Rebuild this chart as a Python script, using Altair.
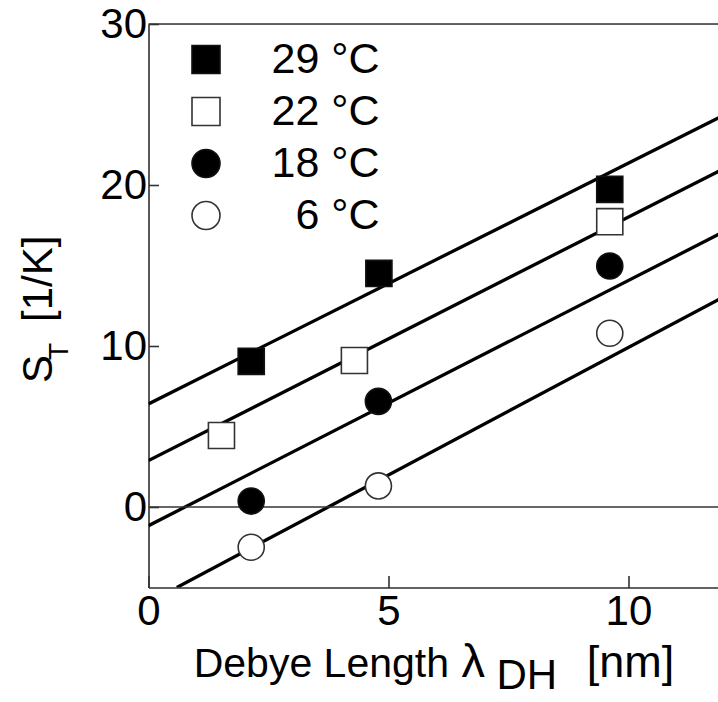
import altair as alt
import pandas as pd

FONT = "Liberation Sans"

series = ["29 °C", "22 °C", "18 °C", "6 °C"]
shapes = ["square", "square", "circle", "circle"]
fills = ["black", "white", "black", "white"]
strokes = ["#111", "#333", "#111", "#333"]

# measured points (Debye length nm, S_T 1/K)
x29 = [2.14, 4.80, 9.61]
y29 = [9.05, 14.51, 19.73]
x22 = [1.52, 4.29, 9.61]
y22 = [4.44, 9.10, 17.72]
x18 = [2.14, 4.79, 9.61]
y18 = [0.37, 6.56, 14.97]
x06 = [2.14, 4.79, 9.61]
y06 = [-2.50, 1.31, 10.79]

# fitted lines: start/end points
line_x0 = [0.0, 0.0, 0.0, 0.59]
line_y0 = [6.40, 2.88, -1.16, -5.0]
line_x1 = [12.0, 12.0, 12.0, 12.0]
line_y1 = [24.35, 21.04, 17.12, 13.08]

x_ticks = [0, 5, 10]
y_ticks = [0, 10, 20, 30]
x_dom = [0, 11.865]
y_dom = [-5, 30]

pts = pd.DataFrame({
    "series": [series[0]] * 3 + [series[1]] * 3 + [series[2]] * 3 + [series[3]] * 3,
    "x": x29 + x22 + x18 + x06,
    "y": y29 + y22 + y18 + y06,
})
lines = pd.DataFrame({
    "series": series + series,
    "x": line_x0 + line_x1,
    "y": line_y0 + line_y1,
})

xs = alt.Scale(domain=x_dom, nice=False, zero=False)
ys = alt.Scale(domain=y_dom, nice=False, zero=False)

xax = alt.Axis(values=x_ticks, title=None, labelFontSize=42, labelFont=FONT,
               labelColor="black", domainColor="#333", domainWidth=1.6,
               tickColor="#333", tickWidth=1.6, tickSize={"expr": "-12"},
               labelPadding=16, labelFlush=False, grid=False)
yax = alt.Axis(values=y_ticks, title=None, labelFontSize=42, labelFont=FONT,
               labelColor="black", domainColor="#333", domainWidth=1.6,
               tickColor="#333", tickWidth=1.6, tickSize={"expr": "-10"},
               labelPadding=12, labelFlush=False, grid=False)

base_lines = alt.Chart(lines).mark_line(color="black", strokeWidth=3.3, clip=True).encode(
    x=alt.X("x:Q", scale=xs, axis=xax),
    y=alt.Y("y:Q", scale=ys, axis=yax),
    detail="series:N",
)

zero = alt.Chart(pd.DataFrame({"y": [0]})).mark_rule(color="#333", strokeWidth=1.6).encode(
    y=alt.Y("y:Q", scale=ys)
)
top = alt.Chart(pd.DataFrame({"y": [30]})).mark_rule(color="#333", strokeWidth=1.6).encode(
    y=alt.Y("y:Q", scale=ys)
)

leg = alt.Legend(orient="none", legendX=36, legendY=14, title=None,
                 symbolSize=784, labelFontSize=43, labelFont=FONT,
                 labelColor="black", symbolStrokeWidth=1.6, rowPadding=8,
                 labelOffset=152, labelAlign="right", padding=0)

points = alt.Chart(pts).mark_point(size=680, filled=False, strokeWidth=1.6, opacity=1).encode(
    x=alt.X("x:Q", scale=xs),
    y=alt.Y("y:Q", scale=ys),
    shape=alt.Shape("series:N", scale=alt.Scale(domain=series, range=shapes), legend=leg),
    fill=alt.Fill("series:N", scale=alt.Scale(domain=series, range=fills), legend=leg),
    stroke=alt.Stroke("series:N", scale=alt.Scale(domain=series, range=strokes), legend=leg),
)

def txt(s, x, y, size, angle=0):
    return alt.Chart(pd.DataFrame([{"text": s}])).mark_text(
        font=FONT, fontSize=size, align="left", baseline="alphabetic", angle=angle, color="black"
    ).encode(text="text:N", x=alt.value(x), y=alt.value(y))

titles = [
    txt("Debye Length", 45.2, 652.6, 41),
    txt("λ", 313, 652.6, 47),
    txt("DH", 348, 664.6, 42),
    txt("[nm]", 438.2, 652.6, 45),
    txt("S", -96.5, 359, 42, angle=270),
    txt("T", -80.5, 336, 28, angle=270),
    txt("[1/K]", -96.5, 298, 42, angle=270),
]

chart = alt.layer(base_lines, zero, top, points, *titles).properties(
    width=569.5, height=563.5,
    autosize=alt.AutoSizeParams(type="none"),
    padding={"left": 148.5, "top": 24, "right": 0, "bottom": 114.5},
).configure_view(stroke=None).configure(background="white")

chart.save("out.html", embed_options={"renderer": "svg", "actions": False})
